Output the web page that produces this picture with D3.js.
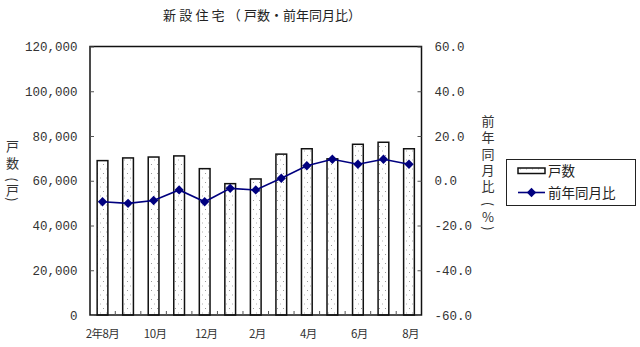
<!DOCTYPE html>
<html>
<head>
<meta charset="utf-8">
<script src="https://cdn.jsdelivr.net/npm/d3@7"></script>
<style>
  html, body { margin: 0; padding: 0; background: #fff; }
  svg { display: block; }
  .cjk { font-family: "Noto Sans CJK JP", "Noto Sans", sans-serif; }
  .num { font-family: "Liberation Mono", "DejaVu Sans Mono", monospace; }
</style>
</head>
<body>
<svg id="chart" width="640" height="347"></svg>
<script>
// Monthly housing starts (units) and year-over-year change (%)
const months = ["2年8月", "9月", "10月", "11月", "12月", "1月", "2月", "3月", "4月", "5月", "6月", "7月", "8月"];
const units = [69000, 70200, 70600, 71100, 65400, 58700, 60800, 71900, 74300, 69800, 76300, 77200, 74300];
const yoy = [-9.4, -10.1, -8.8, -4.1, -9.4, -3.4, -4.1, 1.1, 6.7, 9.6, 7.4, 9.6, 7.4];
const leftTicks = [0, 20000, 40000, 60000, 80000, 100000, 120000];
const rightTicks = [-60, -40, -20, 0, 20, 40, 60];
const labeledMonths = ["2年8月", "10月", "12月", "2月", "4月", "6月", "8月"];

const svg = d3.select("#chart");
const plot = { left: 90, right: 421.5, top: 46.5, bottom: 315 };
const navy = "#00007f";

// dotted fill used for the bars
const defs = svg.append("defs");
const pat = defs.append("pattern")
  .attr("id", "dots").attr("patternUnits", "userSpaceOnUse")
  .attr("width", 6).attr("height", 9);
pat.append("rect").attr("width", 6).attr("height", 9).attr("fill", "#fff");
pat.append("rect").attr("x", 1).attr("y", 2).attr("width", 1).attr("height", 1).attr("fill", "#9a9a9a");
pat.append("rect").attr("x", 4).attr("y", 6.5).attr("width", 1).attr("height", 1).attr("fill", "#b0b0b0");

const x = d3.scaleBand().domain(months)
  .range([plot.left, plot.right]).paddingInner(0.58).paddingOuter(0.28);
const step = x.step();
const yL = d3.scaleLinear().domain([0, 120000]).range([plot.bottom, plot.top]);
const yR = d3.scaleLinear().domain([-60, 60]).range([plot.bottom, plot.top]);

// Title
const title = svg.append("text").attr("class", "cjk")
  .attr("x", 262).attr("y", 20).attr("text-anchor", "middle")
  .attr("font-size", 13).attr("fill", "#222");
title.append("tspan").attr("letter-spacing", 3.2).text("新設住宅（");
title.append("tspan").text("戸数・前年同月比）");

// Bars
svg.append("g").selectAll("rect").data(months).join("rect")
  .attr("x", d => x(d))
  .attr("y", (d, i) => yL(units[i]))
  .attr("width", x.bandwidth())
  .attr("height", (d, i) => yL(0) - yL(units[i]))
  .attr("fill", "url(#dots)")
  .attr("stroke", "#111").attr("stroke-width", 1.5);

// Frame
svg.append("rect")
  .attr("x", plot.left).attr("y", plot.top)
  .attr("width", plot.right - plot.left).attr("height", plot.bottom - plot.top)
  .attr("fill", "none").attr("stroke", "#111").attr("stroke-width", 1.5);

// Left axis (ticks inward)
const axL = svg.append("g").attr("transform", `translate(${plot.left},0)`)
  .call(d3.axisRight(yL).tickValues(leftTicks).tickSize(4).tickFormat(""));
axL.select(".domain").remove();
axL.selectAll("line").attr("stroke", "#555");
svg.append("g").selectAll("text").data(leftTicks).join("text")
  .attr("class", "num")
  .attr("x", 77.5).attr("y", d => yL(d)).attr("dy", "0.36em")
  .attr("text-anchor", "end").attr("font-size", 12.5).attr("fill", "#333")
  .text(d => d3.format(",")(d));

// Right axis (ticks inward)
const axR = svg.append("g").attr("transform", `translate(${plot.right},0)`)
  .call(d3.axisLeft(yR).tickValues(rightTicks).tickSize(4).tickFormat(""));
axR.select(".domain").remove();
axR.selectAll("line").attr("stroke", "#555");
svg.append("g").selectAll("text").data(rightTicks).join("text")
  .attr("class", "num")
  .attr("x", 434.5).attr("y", d => yR(d)).attr("dy", "0.36em")
  .attr("text-anchor", "start").attr("font-size", 12.5).attr("fill", "#333")
  .text(d => d3.format(".1f")(d).replace("\u2212", "-"));

// Bottom axis: category boundary ticks pointing up
const bounds = d3.range(1, months.length).map(i => x(months[i]) - (step - x.bandwidth()) / 2);
svg.append("g").selectAll("line").data(bounds).join("line")
  .attr("x1", d => d).attr("x2", d => d)
  .attr("y1", plot.bottom).attr("y2", plot.bottom - 4)
  .attr("stroke", "#555");

svg.append("g").selectAll("text").data(labeledMonths.map((m, k) => ({ m, i: k * 2 }))).join("text")
  .attr("class", "cjk")
  .attr("x", d => x(months[d.i]) + x.bandwidth() / 2 + (d.i === 0 ? 0 : 1.5))
  .attr("y", 338).attr("text-anchor", "middle")
  .attr("font-size", 11.5).attr("letter-spacing", -0.6).attr("fill", "#333")
  .text(d => d.m);

// Year-over-year line with diamond markers
const cx = i => x(months[i]) + x.bandwidth() / 2;
svg.append("path").datum(yoy)
  .attr("d", d3.line().x((d, i) => cx(i)).y(d => yR(d)))
  .attr("fill", "none").attr("stroke", navy).attr("stroke-width", 1.6);
const diamond = d3.symbol().type(d3.symbolDiamond2).size(56);
svg.append("g").selectAll("path").data(yoy).join("path")
  .attr("transform", (d, i) => `translate(${cx(i)},${yR(d)})`)
  .attr("d", diamond).attr("fill", navy);

// Vertical axis titles, one character per line; brackets turned sideways
function verticalTitle(chars, xPos) {
  const g = svg.append("g").attr("class", "cjk").attr("fill", "#333").attr("font-size", 13);
  g.selectAll("text").data(chars).join("text")
    .attr("x", xPos).attr("y", c => c.y)
    .attr("text-anchor", "middle").attr("dominant-baseline", "central")
    .attr("transform", c => c.rot ? `rotate(90 ${xPos} ${c.y})` : null)
    .text(c => c.ch);
}
verticalTitle([
  { ch: "戸", y: 145.5 }, { ch: "数", y: 162 },
  { ch: "(", y: 179.5, rot: true }, { ch: "戸", y: 189.5 }, { ch: ")", y: 199.5, rot: true }
], 12.5);
verticalTitle([
  { ch: "前", y: 120 }, { ch: "年", y: 136.5 }, { ch: "同", y: 153 },
  { ch: "月", y: 169 }, { ch: "比", y: 185.5 },
  { ch: "(", y: 204, rot: true }, { ch: "%", y: 216.5 }, { ch: ")", y: 228.5, rot: true }
], 488);

// Legend
const lg = svg.append("g");
lg.append("rect").attr("x", 506.5).attr("y", 159.5).attr("width", 129).attr("height", 46)
  .attr("fill", "#fff").attr("stroke", "#222").attr("stroke-width", 1);
lg.append("rect").attr("x", 518).attr("y", 168).attr("width", 27).attr("height", 5.5)
  .attr("fill", "url(#dots)").attr("stroke", "#111").attr("stroke-width", 1.5);
lg.append("text").attr("class", "cjk").attr("x", 548).attr("y", 171).attr("dy", "0.36em")
  .attr("font-size", 13.5).attr("fill", "#222").text("戸数");
lg.append("line").attr("x1", 518).attr("x2", 545).attr("y1", 192.5).attr("y2", 192.5)
  .attr("stroke", navy).attr("stroke-width", 1.6);
lg.append("path").attr("transform", "translate(531.5,192.5)")
  .attr("d", diamond).attr("fill", navy);
lg.append("text").attr("class", "cjk").attr("x", 548).attr("y", 193).attr("dy", "0.36em")
  .attr("font-size", 13.5).attr("fill", "#222").text("前年同月比");
</script>
</body>
</html>
